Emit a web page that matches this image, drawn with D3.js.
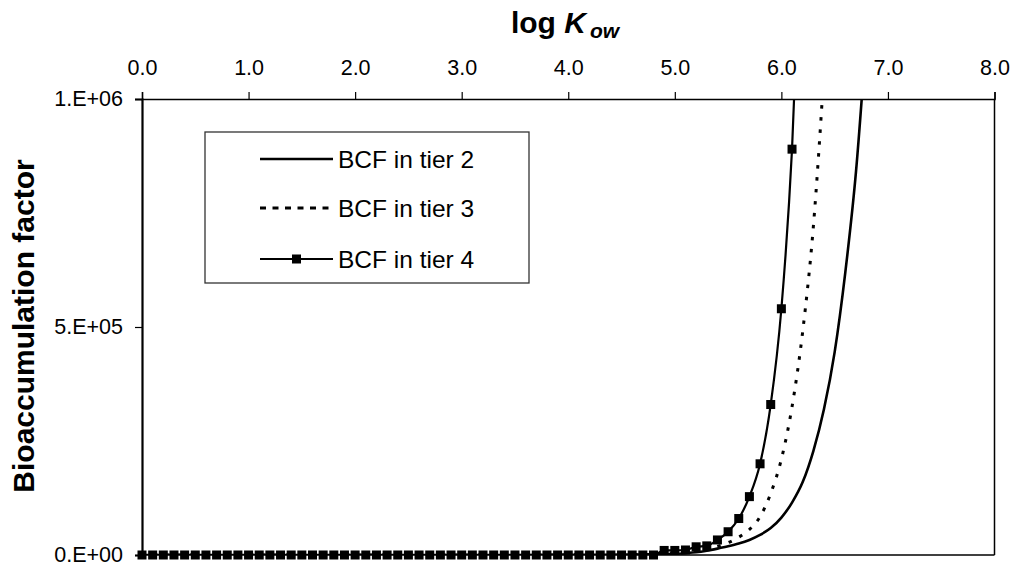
<!DOCTYPE html>
<html>
<head>
<meta charset="utf-8">
<script src="https://cdn.jsdelivr.net/npm/d3@7"></script>
<style>
  html, body { margin: 0; padding: 0; background: #fff; }
  svg { display: block; font-family: Arial, "Liberation Sans", sans-serif; }
</style>
</head>
<body>
<svg id="chart" width="1016" height="568"></svg>
<script>
// ---------------- data ----------------
const xTicks = [0, 1, 2, 3, 4, 5, 6, 7, 8];
const yTicks = [0, 500000, 1000000];
const yTickLabels = ["0.E+00", "5.E+05", "1.E+06"];
const seriesNames = ["BCF in tier 2", "BCF in tier 3", "BCF in tier 4"];

const tier2X = [0.0, 1.0, 2.0, 3.0, 4.0, 4.5, 4.8, 5.0, 5.1, 5.2, 5.3, 5.4, 5.5, 5.6, 5.7, 5.8, 5.9, 6.0, 6.1, 6.2, 6.3, 6.4, 6.5, 6.6, 6.7, 6.8];
const tier2Y = [0, 0, 0, 0, 300, 800, 1500, 2500, 4000, 6000, 9500, 14000, 19000, 25000, 33000, 44000, 59000, 82000, 115000, 160000, 228000, 320000, 445000, 620000, 840000, 1150000];

const tier3X = [0.0, 1.0, 2.0, 3.0, 4.0, 4.5, 4.8, 4.9, 5.0, 5.1, 5.2, 5.3, 5.4, 5.5, 5.6, 5.7, 5.8, 5.9, 6.0, 6.1, 6.2, 6.3, 6.4];
const tier3Y = [0, 0, 0, 0, 300, 800, 1500, 2500, 3500, 5500, 8500, 13000, 19000, 27000, 39000, 56000, 84000, 135000, 210000, 325000, 490000, 720000, 1060000];

const tier4X = [0.0, 0.1, 0.2, 0.3, 0.4, 0.5, 0.6, 0.7, 0.8, 0.9,
                1.0, 1.1, 1.2, 1.3, 1.4, 1.5, 1.6, 1.7, 1.8, 1.9,
                2.0, 2.1, 2.2, 2.3, 2.4, 2.5, 2.6, 2.7, 2.8, 2.9,
                3.0, 3.1, 3.2, 3.3, 3.4, 3.5, 3.6, 3.7, 3.8, 3.9,
                4.0, 4.1, 4.2, 4.3, 4.4, 4.5, 4.6, 4.7, 4.8, 4.9,
                5.0, 5.1, 5.2, 5.3, 5.4, 5.5, 5.6, 5.7, 5.8, 5.9,
                6.0, 6.1, 6.2];
const tier4Y = [0, 0, 0, 0, 0, 0, 0, 0, 0, 0,
                0, 0, 0, 0, 0, 0, 0, 0, 0, 0,
                0, 0, 0, 0, 0, 0, 0, 0, 0, 0,
                0, 0, 0, 0, 0, 0, 0, 0, 0, 0,
                0, 0, 0, 0, 0, 0, 0, 0, 0, 10000,
                10000, 11000, 18000, 20000, 33000, 51000, 80000, 128000, 200000, 330000,
                540000, 890000, 1470000];

// ---------------- layout ----------------
const svg = d3.select("#chart");
const L = 142, R = 994.5, T = 99, B = 555;
const x = d3.scaleLinear().domain([0, 8]).range([L, R]);
const y = d3.scaleLinear().domain([0, 1000000]).range([B, T]);

svg.append("rect").attr("width", 1016).attr("height", 568).attr("fill", "#fff");

svg.append("defs").append("clipPath").attr("id", "plotclip")
  .append("rect").attr("x", L).attr("y", T).attr("width", R - L).attr("height", B - T);

// frame (right and bottom)
svg.append("line").attr("x1", R).attr("x2", R).attr("y1", T).attr("y2", B)
  .attr("stroke", "#000").attr("stroke-width", 1.5);
svg.append("line").attr("x1", L).attr("x2", R).attr("y1", B).attr("y2", B)
  .attr("stroke", "#000").attr("stroke-width", 1.5);

// x axis (top)
const xAxis = svg.append("g").attr("transform", `translate(0,${T})`)
  .call(d3.axisTop(x).tickValues(xTicks).tickFormat(d3.format(".1f")).tickSize(7).tickPadding(17));
xAxis.select(".domain").attr("stroke-width", 1.5);
xAxis.selectAll(".tick line").attr("stroke-width", 1.2);
xAxis.selectAll("text").attr("font-size", 21.5).attr("fill", "#000")
  .attr("font-family", "Arial, 'Liberation Sans', sans-serif");

// y axis (left)
const yAxis = svg.append("g").attr("transform", `translate(${L},0)`)
  .call(d3.axisLeft(y).tickValues(yTicks).tickFormat((d, i) => yTickLabels[i]).tickSize(7).tickPadding(12));
yAxis.select(".domain").attr("stroke-width", 2.2);
yAxis.selectAll(".tick line").attr("stroke-width", 1.2);
yAxis.selectAll("text").attr("font-size", 21.5).attr("fill", "#000")
  .attr("font-family", "Arial, 'Liberation Sans', sans-serif");

// axis titles
const xt = svg.append("text").attr("x", 565).attr("y", 33)
  .attr("text-anchor", "middle").attr("font-size", 30).attr("font-weight", "bold");
xt.append("tspan").text("log ");
xt.append("tspan").attr("font-style", "italic").text("K");
xt.append("tspan").attr("font-style", "italic").attr("font-size", 21).attr("dx", 4).attr("dy", 5).text("ow");

svg.append("text").attr("transform", "translate(34,326) rotate(-90)")
  .attr("text-anchor", "middle").attr("font-size", 30).attr("font-weight", "bold")
  .text("Bioaccumulation factor");

// ---------------- series ----------------
const line = d3.line().x(d => x(d[0])).y(d => y(d[1])).curve(d3.curveMonotoneX);
const plot = svg.append("g").attr("clip-path", "url(#plotclip)");

const t2 = tier2X.map((v, i) => [v, tier2Y[i]]);
const t3 = tier3X.map((v, i) => [v, tier3Y[i]]);
const t4 = tier4X.map((v, i) => [v, tier4Y[i]]);

plot.append("path").attr("d", line(t2)).attr("fill", "none")
  .attr("stroke", "#000").attr("stroke-width", 2.6);
plot.append("path").attr("d", line(t3)).attr("fill", "none")
  .attr("stroke", "#000").attr("stroke-width", 3).attr("stroke-dasharray", "3.5,8.5");
plot.append("path").attr("d", line(t4)).attr("fill", "none")
  .attr("stroke", "#000").attr("stroke-width", 2.2);

const ms = 9;
svg.append("g").selectAll("rect").data(t4.filter(d => d[1] <= 1000000)).join("rect")
  .attr("x", d => x(d[0]) - ms / 2).attr("y", d => y(d[1]) - ms / 2)
  .attr("width", ms).attr("height", ms).attr("fill", "#000");

// ---------------- legend ----------------
const lg = svg.append("g");
lg.append("rect").attr("x", 205).attr("y", 132).attr("width", 324).attr("height", 151)
  .attr("fill", "#fff").attr("stroke", "#333").attr("stroke-width", 1.3);
const rowsY = [159, 208, 259];
const dashes = [null, "6,6.5", null];
const widths = [2.6, 3, 2.2];
seriesNames.forEach((name, i) => {
  const l = lg.append("line").attr("x1", 260).attr("x2", 333).attr("y1", rowsY[i]).attr("y2", rowsY[i])
    .attr("stroke", "#000").attr("stroke-width", widths[i]);
  if (dashes[i]) l.attr("stroke-dasharray", dashes[i]);
  if (i === 2) {
    lg.append("rect").attr("x", 296.5 - ms / 2).attr("y", rowsY[i] - ms / 2)
      .attr("width", ms).attr("height", ms).attr("fill", "#000");
  }
  lg.append("text").attr("x", 338).attr("y", rowsY[i]).attr("dy", "0.35em")
    .attr("font-size", 24.5).attr("fill", "#000").text(name);
});
</script>
</body>
</html>
